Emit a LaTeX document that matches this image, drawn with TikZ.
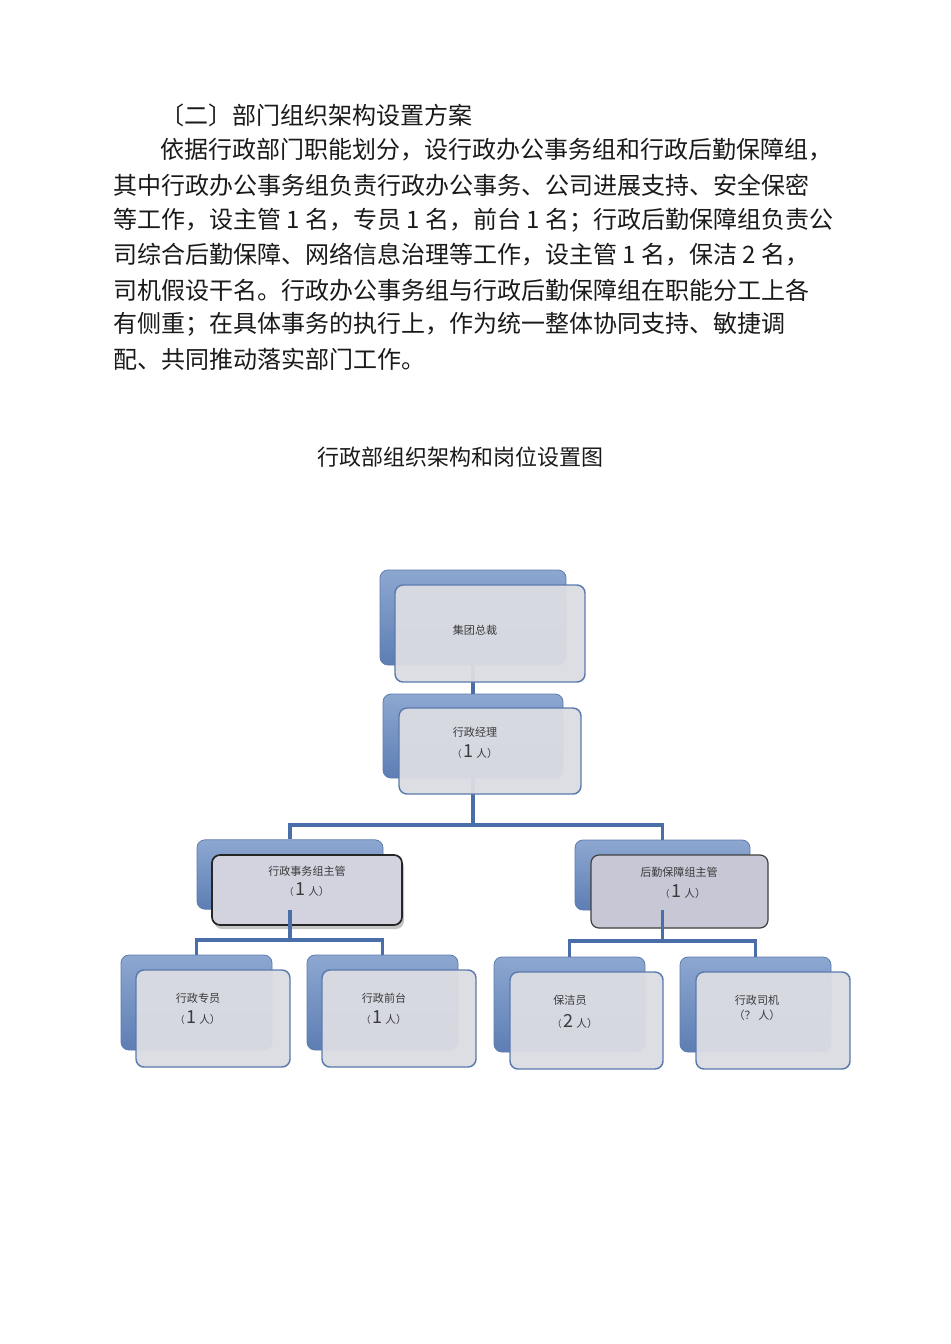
\documentclass[tikz,border=0pt]{standalone}
\usepackage{fontspec}
\setmainfont{Noto Sans CJK SC}
\usetikzlibrary{shadows}
\pgfdeclarelayer{background}
\pgfdeclarelayer{canvas}
\pgfsetlayers{canvas,background,main}
\definecolor{bodytext}{HTML}{1A1A1A}
\definecolor{boxtext}{HTML}{3A3A3A}
\definecolor{backtop}{HTML}{8DA7D0}
\definecolor{backbot}{HTML}{5D7EB4}
\definecolor{backedge}{HTML}{5F7CAD}
\definecolor{frontfill}{HTML}{DCDDE3}
\definecolor{frontedge}{HTML}{5B7AAD}
\definecolor{midfill}{HTML}{D3D3DF}
\definecolor{logfill}{HTML}{C7C7D6}
\definecolor{linkcol}{HTML}{4A6EA8}
\tikzset{
  bodyline/.style={anchor=west, inner sep=0pt, font=\fontsize{18pt}{22pt}\selectfont, text=bodytext},
  backbox/.style={rounded corners=6pt, top color=backtop, bottom color=backbot, draw=backedge, line width=0.6pt, inner sep=0pt},
  frontbox/.style={rounded corners=6pt, fill=frontfill, fill opacity=0.95, draw=frontedge, line width=1.1pt, inner sep=0pt},
  midbox/.style={rounded corners=6pt, fill=midfill, draw=black!85, line width=1.3pt, inner sep=0pt,
     drop shadow={opacity=0.45, shadow xshift=1.5pt, shadow yshift=-3pt}},
  logbox/.style={rounded corners=6pt, fill=logfill, draw=black!75, line width=0.9pt, inner sep=0pt},
  boxlabel/.style={inner sep=0pt, font=\fontsize{8.3pt}{10pt}\selectfont, text=boxtext},
  link/.style={draw=linkcol, line width=2.5pt}
}
\newcommand{\cnt}[1]{{\fontsize{7pt}{9pt}\selectfont （}\hspace{1.5pt}{\fontsize{13.5pt}{13.5pt}\selectfont #1}\hspace{2pt}{\fontsize{8pt}{9pt}\selectfont 人）}}
\begin{document}
\begin{tikzpicture}[x=0.75pt, y=-0.75pt]
\begin{pgfonlayer}{canvas}
\fill[white] (0,0) rectangle (950,1344);
\end{pgfonlayer}
\useasboundingbox (0,0) rectangle (950,1344);

% body text
\node[bodyline] (l1) at (160,115) {〔二〕部门组织架构设置方案};
\node[bodyline] (l2) at (160,150) {依据行政部门职能划分，设行政办公事务组和行政后勤保障组，};
\node[bodyline] (l3) at (113,185) {其中行政办公事务组负责行政办公事务、公司进展支持、安全保密};
\node[bodyline] (l4) at (113,220) {等工作，设主管 1 名，专员 1 名，前台 1 名；行政后勤保障组负责公};
\node[bodyline] (l5) at (113,255) {司综合后勤保障、网络信息治理等工作，设主管 1 名，保洁 2 名，};
\node[bodyline] (l6) at (113,290) {司机假设干名。行政办公事务组与行政后勤保障组在职能分工上各};
\node[bodyline] (l7) at (113,324) {有侧重；在具体事务的执行上，作为统一整体协同支持、敏捷调};
\node[bodyline] (l8) at (113,359) {配、共同推动落实部门工作。};

\node[inner sep=0pt, font=\fontsize{16.5pt}{20pt}\selectfont, text=bodytext] (title) at (460,457) {行政部组织架构和岗位设置图};

% level 1
\node[backbox, minimum width=139.5pt, minimum height=71.25pt] (b1) at (473,617.5) {};
\node[frontbox, minimum width=142.5pt, minimum height=72.75pt] (f1) at (490,633.5) {};
\node[boxlabel] (t1) at (475,630) {集团总裁};

% level 2
\node[backbox, minimum width=135pt, minimum height=63pt] (b2) at (473,736) {};
\node[frontbox, minimum width=136.5pt, minimum height=64.5pt] (f2) at (490,751) {};
\node[boxlabel] (t2a) at (475,732) {行政经理};
\node[boxlabel] (t2b) at (475,752) {\cnt{1}};

% level 3
\node[backbox, minimum width=139.5pt, minimum height=52pt] (b3) at (290,874.5) {};
\node[midbox, minimum width=142.5pt, minimum height=52.5pt] (f3) at (307,890) {};
\node[boxlabel] (t3a) at (307,871) {行政事务组主管};
\node[boxlabel] (t3b) at (307,890) {\cnt{1}};

\node[backbox, minimum width=131.25pt, minimum height=52.5pt] (b4) at (662.5,875) {};
\node[logbox, minimum width=132.75pt, minimum height=54.75pt] (f4) at (679.5,891.5) {};
\node[boxlabel] (t4a) at (679,872) {后勤保障组主管};
\node[boxlabel] (t4b) at (683,892) {\cnt{1}};

% level 4
\node[backbox, minimum width=113.25pt, minimum height=71.25pt] (b5) at (196.5,1002.5) {};
\node[frontbox, minimum width=115.5pt, minimum height=72.75pt] (f5) at (213,1018.5) {};
\node[boxlabel] (t5a) at (198,998) {行政专员};
\node[boxlabel] (t5b) at (198,1018) {\cnt{1}};

\node[backbox, minimum width=113.25pt, minimum height=71.25pt] (b6) at (382.5,1002.5) {};
\node[frontbox, minimum width=115.5pt, minimum height=72.75pt] (f6) at (399,1018.5) {};
\node[boxlabel] (t6a) at (384,998) {行政前台};
\node[boxlabel] (t6b) at (384,1018) {\cnt{1}};

\node[backbox, minimum width=113.25pt, minimum height=71.25pt] (b7) at (569.5,1004.5) {};
\node[frontbox, minimum width=114.75pt, minimum height=72.75pt] (f7) at (586.5,1020.5) {};
\node[boxlabel] (t7a) at (570,1000) {保洁员};
\node[boxlabel] (t7b) at (575,1021) {\cnt{2}};

\node[backbox, minimum width=113.25pt, minimum height=71.25pt] (b8) at (755.5,1004.5) {};
\node[frontbox, minimum width=115.5pt, minimum height=72.75pt] (f8) at (773,1020.5) {};
\node[boxlabel] (t8a) at (757,1000) {行政司机};
\node[boxlabel] (t8b) at (757,1015) {（？ 人）};

% junction points
\coordinate (j2) at (473,825);
\coordinate (j3) at (290,940);
\coordinate (j4) at (662.5,941);

% connectors behind boxes
\begin{pgfonlayer}{background}
\draw[link] (b1.south) -- (b2.north);
\draw[link] (b2.south) -- (j2);
\draw[link] (j2) -| (b3.north);
\draw[link] (j2) -| (b4.north);
\draw[link] (j3) -| (b5.north);
\draw[link] (j3) -| (b6.north);
\draw[link] (j4) -| (b7.north);
\draw[link] (j4) -| (b8.north);
\end{pgfonlayer}
% connectors drawn over the supervisor boxes
\draw[link] (b3.south) -- (j3);
\draw[link] (b4.south) -- (j4);
\end{tikzpicture}
\end{document}
